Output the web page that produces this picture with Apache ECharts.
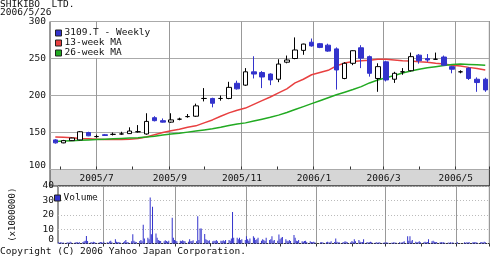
<!DOCTYPE html>
<html><head><meta charset="utf-8">
<script src="https://cdn.jsdelivr.net/npm/echarts@6/dist/echarts.min.js"></script>
<style>html,body{margin:0;padding:0;background:#fff}#c{width:492px;height:258px}</style>
</head><body><div id="c"></div>
<script>
// Weekly candles (week-ending Fridays)
const weekDates = ['2005/5/27','2005/6/3','2005/6/10','2005/6/17','2005/6/24','2005/7/1','2005/7/8','2005/7/15','2005/7/22','2005/7/29',
 '2005/8/5','2005/8/12','2005/8/19','2005/8/26','2005/9/2','2005/9/9','2005/9/16','2005/9/23','2005/9/30','2005/10/7',
 '2005/10/14','2005/10/21','2005/10/28','2005/11/4','2005/11/11','2005/11/18','2005/11/25','2005/12/2','2005/12/9','2005/12/16',
 '2005/12/23','2005/12/30','2006/1/6','2006/1/13','2006/1/20','2006/1/27','2006/2/3','2006/2/10','2006/2/17','2006/2/24',
 '2006/3/3','2006/3/10','2006/3/17','2006/3/24','2006/3/31','2006/4/7','2006/4/14','2006/4/21','2006/4/28','2006/5/5',
 '2006/5/12','2006/5/19','2006/5/26'];
const openP  = [140,136,139,140,150,144.5,147,147.5,148,148.5,151,148,170,166,164,168,171.5,172,196,196,196,196,216.5,214,232,231,229,222,245,250,261,272,270,268,263,223,243.5,264.5,252.5,223,245.5,222,232,233.5,254.5,250,249,252,239,232,237,222,222];
const closeP = [136,139,142.5,151,145.5,144.5,146,147.5,148,152,151,165,166,164,167,168,171.5,186,196,189.5,196,211,209,232,229,225,221,242.5,248,261.5,269.5,267,265,260,234.5,243.5,260.5,250.5,230,239,221,230,232,252.5,247,248,249,241,235.5,232,223,217.5,207.5];
const lowP   = [135,135.5,138.5,139.5,145,143,145.5,146,147,148,150,147,165,163.5,163,166.5,170,171,192,184,193,195,208,213,223,210,214,218,243.5,249,255,266,264,259,208,222,241,237,225.5,205,219,217,228,232.5,243,245.5,249,240,230,230,221,205,205];
const highP  = [141,140,143,152,151,147,148,150,151,157,160,176,172,169,176,170,175,189,210,197,200,218.5,220,237,253,233,230,249,254,278.5,270,277,271,270,265,245,261,268,254,243.5,247,232,237,258,256,256,258,254,240,234,238,224.5,224];
const ma13 = [144,143.5,143,142,141.5,141,140.5,140.5,140.5,141,142,144,147,150,152.5,154.5,157,159,163,167,172,176.5,180,183,188,193,198,203.5,209,217,222,228,231,234,240,244,246,247,247.5,249,249,248,247,246.5,245.5,245,243.5,242.5,241,240,238,236.5,234.5];
const ma26 = [138,138.5,139,139.5,140,140.5,141,141.5,142,142.5,143,144,145,146.5,148,149,150.5,152,153.5,155,157,159.5,161.5,163,165.5,168,170.5,173.5,177,181,185,189,193,197,201,204.5,208,212,217,221,224,227,230.5,233,235.5,237.5,239,240.5,242,242.5,242,241.5,241];
// Daily volume (x1,000,000), Mon..Fri for each week above
const volume = [
 [0.8,0.5,1.0,0.6,0.7],[0.6,0.9,0.5,1.2,0.7],[0.5,0.8,1.1,0.6,0.9],[1.0,1.5,2.0,5.2,1.8],[1.0,0.7,1.2,0.8,0.6],
 [0.7,1.0,0.8,0.6,1.3],[0.9,0.6,1.4,2.0,0.8],[3.0,1.2,0.8,1.0,0.7],[0.9,1.5,2.5,1.1,0.8],[1.5,6.5,2.0,1.2,1.0],
 [1.8,2.5,1.5,13.0,3.5],[4.0,3.0,32.0,6.5,25.5],[7.0,4.0,2.5,2.0,1.8],[1.5,2.2,1.8,1.2,2.0],[18.0,4.0,2.5,2.0,1.5],
 [2.0,1.5,2.2,1.8,1.5],[1.2,3.0,1.5,1.8,2.2],[1.5,19.0,2.5,10.5,10.5],[6.6,3.0,2.5,1.8,2.2],[1.5,2.0,1.8,2.5,1.5],
 [2.0,1.8,2.2,1.5,2.5],[2.5,2.0,3.5,22.0,4.0],[4.0,3.0,4.0,2.5,3.0],[2.5,5.0,3.0,2.0,3.5],[5.0,4.0,2.5,3.0,4.0],
 [2.0,3.0,2.5,1.8,4.0],[2.5,3.0,5.0,2.0,2.5],[2.0,6.3,3.0,4.0,4.5],[3.0,2.0,1.5,2.5,1.8],[5.9,4.0,2.0,1.5,2.5],
 [1.5,1.2,1.8,2.0,1.0],[1.5,1.0,0.8,1.2,0.9],[0,0,0.8,1.0,0.7],[0.8,1.2,0.7,0.9,1.5],[1.0,3.5,1.2,0.9,0.8],
 [0.7,1.0,1.5,1.2,0.8],[0.9,1.8,1.0,3.0,1.5],[2.5,1.2,0.8,1.0,3.0],[1.0,0.7,0.9,1.2,0.8],[0.6,0.8,0.5,0.7,0.9],
 [0.5,0.7,0.6,0.8,0.5],[0.6,0.5,0.9,0.7,0.6],[0.8,0.6,0.7,1.0,1.5],[5.0,2.0,5.0,1.5,2.5],[1.2,0.9,1.0,1.5,0.8],
 [0.9,1.2,0.8,1.0,3.0],[1.5,2.0,1.2,0.9,1.0],[0.8,1.0,0.7,0.9,0.6],[0.7,0.5,0.8,0.6,0.9],[0.6,0.8,0,0,0],
 [0.8,0.6,0.9,0.7,1.0],[0.7,0.9,1.1,0.8,0.6],[0.8,1.0,0.7,1.2,0.9]];
const monthLabels = ['7','9','11','1','3','5'];
const axisStart = [2005,4,23], axisDays = 372;

// daily calendar axis
const days = [];
for (let i = 0; i < axisDays; i++) {
  const d = new Date(Date.UTC(axisStart[0], axisStart[1], axisStart[2] + i));
  days.push(d.getUTCFullYear() + '/' + (d.getUTCMonth() + 1) + '/' + d.getUTCDate());
}
const idx = {}; days.forEach((d, i) => idx[d] = i);
const candle = days.map(() => '-'), l13 = days.map(() => '-'), l26 = days.map(() => '-'), vol = days.map(() => '-');
weekDates.forEach((d, k) => {
  const f = idx[d];
  candle[f] = [openP[k], closeP[k], lowP[k], highP[k]];
  l13[f] = ma13[k]; l26[f] = ma26[k];
  volume[k].forEach((v, j) => { if (v > 0) vol[f - 4 + j] = v; });
});
const isMonthStart = (i, v) => v.split('/')[2] === '1';
const isLabelMonth = (i, v) => { const p = v.split('/'); return p[2] === '1' && monthLabels.includes(p[1]); };
const FF = 'DejaVu Sans Mono';
const txt = (s) => Object.assign({fontFamily: FF, fontSize: 9, color: '#111', fontWeight: 'normal'}, s || {});

const chart = echarts.init(document.getElementById('c'), null, {renderer: 'canvas'});
const L = 50, R = 2.6;
chart.setOption({
  animation: false,
  backgroundColor: '#fff',
  title: [
    {text: 'SHIKIBO  LTD.', left: 0, top: 0, padding: 0, textStyle: txt({fontSize: 9.5})},
    {text: '2006/5/26', left: 0, top: 8, padding: 0, textStyle: txt({fontSize: 9.5})},
    {text: 'Copyright (C) 2006 Yahoo Japan Corporation.', left: 0, top: 247, padding: 0, textStyle: txt({fontSize: 9.5})}
  ],
  legend: [
    {left: 54, top: 28, orient: 'vertical', padding: [0, 2, 0, 1], itemGap: 0, icon: 'rect', itemWidth: 6, itemHeight: 6,
     selectedMode: false, backgroundColor: '#fff', textStyle: txt({fontSize: 9.5, lineHeight: 9.5, padding: [0, 0, 0, -2]}),
     data: [
       {name: '3109.T - Weekly', itemStyle: {color: '#3333cc', borderColor: '#222', borderWidth: 1}},
       {name: '13-week MA', itemStyle: {color: '#e84040', borderColor: '#222', borderWidth: 1}},
       {name: '26-week MA', itemStyle: {color: '#22aa22', borderColor: '#222', borderWidth: 1}}
     ]},
    {left: 54, top: 193, padding: 0, icon: 'rect', itemWidth: 6, itemHeight: 6, selectedMode: false,
     textStyle: txt({fontSize: 9.5, padding: [0, 0, 0, -2]}),
     data: [{name: 'Volume', itemStyle: {color: '#3333cc', borderColor: '#222', borderWidth: 1}}]}
  ],
  grid: [
    {left: L, right: R, top: 21.5, height: 148, show: true, borderColor: '#333', borderWidth: 1, backgroundColor: '#fff'},
    {left: L, right: R, top: 169.5, height: 16.5, show: true, borderColor: '#333', borderWidth: 1, backgroundColor: '#d6d6d6'},
    {left: L, right: R, top: 186, height: 57.5, show: true, borderColor: '#333', borderWidth: 1, backgroundColor: '#fff'}
  ],
  xAxis: [
    {gridIndex: 0, type: 'category', data: days, boundaryGap: true, axisLine: {show: false},
     axisTick: {show: true, inside: true, length: 3, interval: isMonthStart, lineStyle: {color: '#333'}},
     axisLabel: {interval: isLabelMonth, formatter: v => { const p = v.split('/'); return p[0] + '/' + p[1]; },
                 margin: 4, ...txt({fontSize: 9.5})},
     splitLine: {show: true, interval: isLabelMonth, lineStyle: {color: '#999', width: 1}}},
    {gridIndex: 1, type: 'category', data: days, show: false},
    {gridIndex: 2, type: 'category', data: days, boundaryGap: true, position: 'top', axisLine: {show: false},
     axisTick: {show: true, inside: true, length: 3, interval: isMonthStart, lineStyle: {color: '#333'}},
     axisLabel: {show: false},
     splitLine: {show: true, interval: isLabelMonth, lineStyle: {color: '#999', width: 1}}}
  ],
  yAxis: [
    {gridIndex: 0, type: 'value', min: 100, max: 300, interval: 50, axisLine: {show: false}, axisTick: {show: false},
     axisLabel: {margin: 4, showMinLabel: true, showMaxLabel: true, lineHeight: 8, verticalAlignMinLabel: 'bottom', ...txt({fontSize: 9.5})},
     splitLine: {lineStyle: {color: '#aaa', width: 1}}},
    {gridIndex: 1, type: 'value', show: false},
    {gridIndex: 2, type: 'value', min: 0, max: 40, interval: 10, axisLine: {show: false}, axisTick: {show: false},
     axisLabel: {margin: 4, showMinLabel: true, showMaxLabel: true, hideOverlap: false, lineHeight: 8,
                 verticalAlignMinLabel: 'bottom', ...txt({fontSize: 9.5})},
     name: '(x1000000)', nameLocation: 'middle', nameRotate: 90, nameGap: 41, nameTextStyle: txt({fontSize: 9}),
     splitLine: {lineStyle: {color: '#bbb', width: 1, type: [1, 2]}}}
  ],
  series: [
    {name: '13-week MA', type: 'line', xAxisIndex: 0, yAxisIndex: 0, data: l13, connectNulls: true, showSymbol: false,
     symbol: 'none', lineStyle: {color: '#e84040', width: 1.5}, itemStyle: {color: '#e84040'}, z: 2},
    {name: '26-week MA', type: 'line', xAxisIndex: 0, yAxisIndex: 0, data: l26, connectNulls: true, showSymbol: false,
     symbol: 'none', lineStyle: {color: '#22aa22', width: 1.5}, itemStyle: {color: '#22aa22'}, z: 2},
    {name: '3109.T - Weekly', type: 'candlestick', xAxisIndex: 0, yAxisIndex: 0, data: candle, barWidth: 5, z: 3,
     itemStyle: {color: '#ffffff', color0: '#3333cc', borderColor: '#000', borderColor0: '#3333cc', borderColorDoji: '#000', borderWidth: 1}},
    {name: 'Volume', type: 'bar', xAxisIndex: 2, yAxisIndex: 2, data: vol, barWidth: 1, itemStyle: {color: '#3333cc'}}
  ]
});
</script></body></html>
